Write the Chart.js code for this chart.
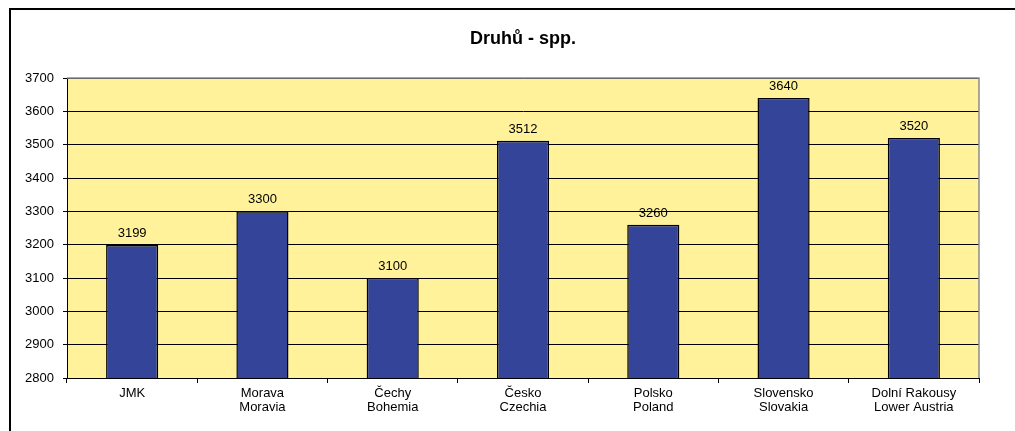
<!DOCTYPE html>
<html>
<head>
<meta charset="utf-8">
<script src="https://cdn.jsdelivr.net/npm/chart.js@4/dist/chart.umd.min.js"></script>
<style>
    html, body { margin: 0; padding: 0; background: #fff; overflow: hidden; }
    #wrap { position: relative; width: 1015px; height: 431px; }
    #frame { position: absolute; left: 9px; top: 8px; width: 1100px; height: 500px; border: 2.5px solid #000; box-sizing: border-box; }
    canvas { position: absolute; left: 0; top: 0; }
</style>
</head>
<body>
<div id="wrap">
    <div id="frame"></div>
    <canvas id="speciesChart" width="1015" height="431"></canvas>
</div>
<script>
// --- Data ---
const categories = [
    ['JMK'],
    ['Morava', 'Moravia'],
    ['Čechy', 'Bohemia'],
    ['Česko', 'Czechia'],
    ['Polsko', 'Poland'],
    ['Slovensko', 'Slovakia'],
    ['Dolní Rakousy', 'Lower Austria']
];
const speciesCounts = [3199, 3300, 3100, 3512, 3260, 3640, 3520];
const yMin = 2800;
const yMax = 3700;
const yStep = 100;

const FONT = '"Liberation Sans", Arial, sans-serif';

// yellow plot background + grey top/right frame
const plotFrame = {
    id: 'plotFrame',
    beforeDraw(chart) {
        const a = chart.chartArea, ctx = chart.ctx;
        ctx.save();
        ctx.fillStyle = '#fff29b';
        ctx.fillRect(a.left, a.top, a.right - a.left, a.bottom - a.top);
        ctx.restore();
    },
    afterDraw(chart) {
        const a = chart.chartArea, ctx = chart.ctx;
        ctx.save();
        ctx.strokeStyle = '#8c8c8c';
        ctx.lineWidth = 1.5;
        ctx.beginPath();
        ctx.moveTo(a.left, a.top);
        ctx.lineTo(a.right, a.top);
        ctx.lineTo(a.right, a.bottom);
        ctx.stroke();
        ctx.restore();
    }
};

// value above each bar
const barValues = {
    id: 'barValues',
    afterDatasetsDraw(chart) {
        const ctx = chart.ctx;
        const meta = chart.getDatasetMeta(0);
        ctx.save();
        ctx.font = '13px ' + FONT;
        ctx.fillStyle = '#000';
        ctx.textAlign = 'center';
        ctx.textBaseline = 'bottom';
        meta.data.forEach((bar, i) => {
            ctx.fillText(String(speciesCounts[i]), bar.x, bar.y - 5);
        });
        ctx.restore();
    }
};

new Chart(document.getElementById('speciesChart'), {
    type: 'bar',
    data: {
        labels: categories,
        datasets: [{
            data: speciesCounts,
            backgroundColor: '#334499',
            borderColor: '#000',
            borderWidth: 1.5,
            borderSkipped: false,
            categoryPercentage: 1,
            barPercentage: 0.4
        }]
    },
    options: {
        responsive: false,
        animation: false,
        devicePixelRatio: 1,
        layout: { padding: { left: 0, right: 36, top: 0, bottom: 0 } },
        plugins: {
            legend: { display: false },
            tooltip: { enabled: false },
            title: {
                display: true,
                text: 'Druhů - spp.',
                fullSize: false,
                color: '#000',
                font: { family: FONT, size: 18, weight: 'bold', lineHeight: 1.2 },
                padding: { top: 28, bottom: 28.4 }
            }
        },
        scales: {
            x: {
                grid: { drawOnChartArea: false, drawTicks: true, tickLength: 5, color: '#000' },
                border: { color: '#000', width: 1 },
                ticks: { color: '#000', padding: 3, maxRotation: 0, autoSkip: false,
                         font: { family: FONT, size: 13, lineHeight: 1.1 } },
                afterFit(scale) { scale.height = 53; }
            },
            y: {
                min: yMin,
                max: yMax,
                grid: { color: '#000', tickLength: 4, lineWidth: 1 },
                border: { color: '#000', width: 1 },
                ticks: { stepSize: yStep, color: '#000', padding: 9,
                         font: { family: FONT, size: 13 },
                         callback: v => String(v) },
                afterFit(scale) { scale.width = 67; }
            }
        }
    },
    plugins: [plotFrame, barValues]
});
</script>
</body>
</html>
